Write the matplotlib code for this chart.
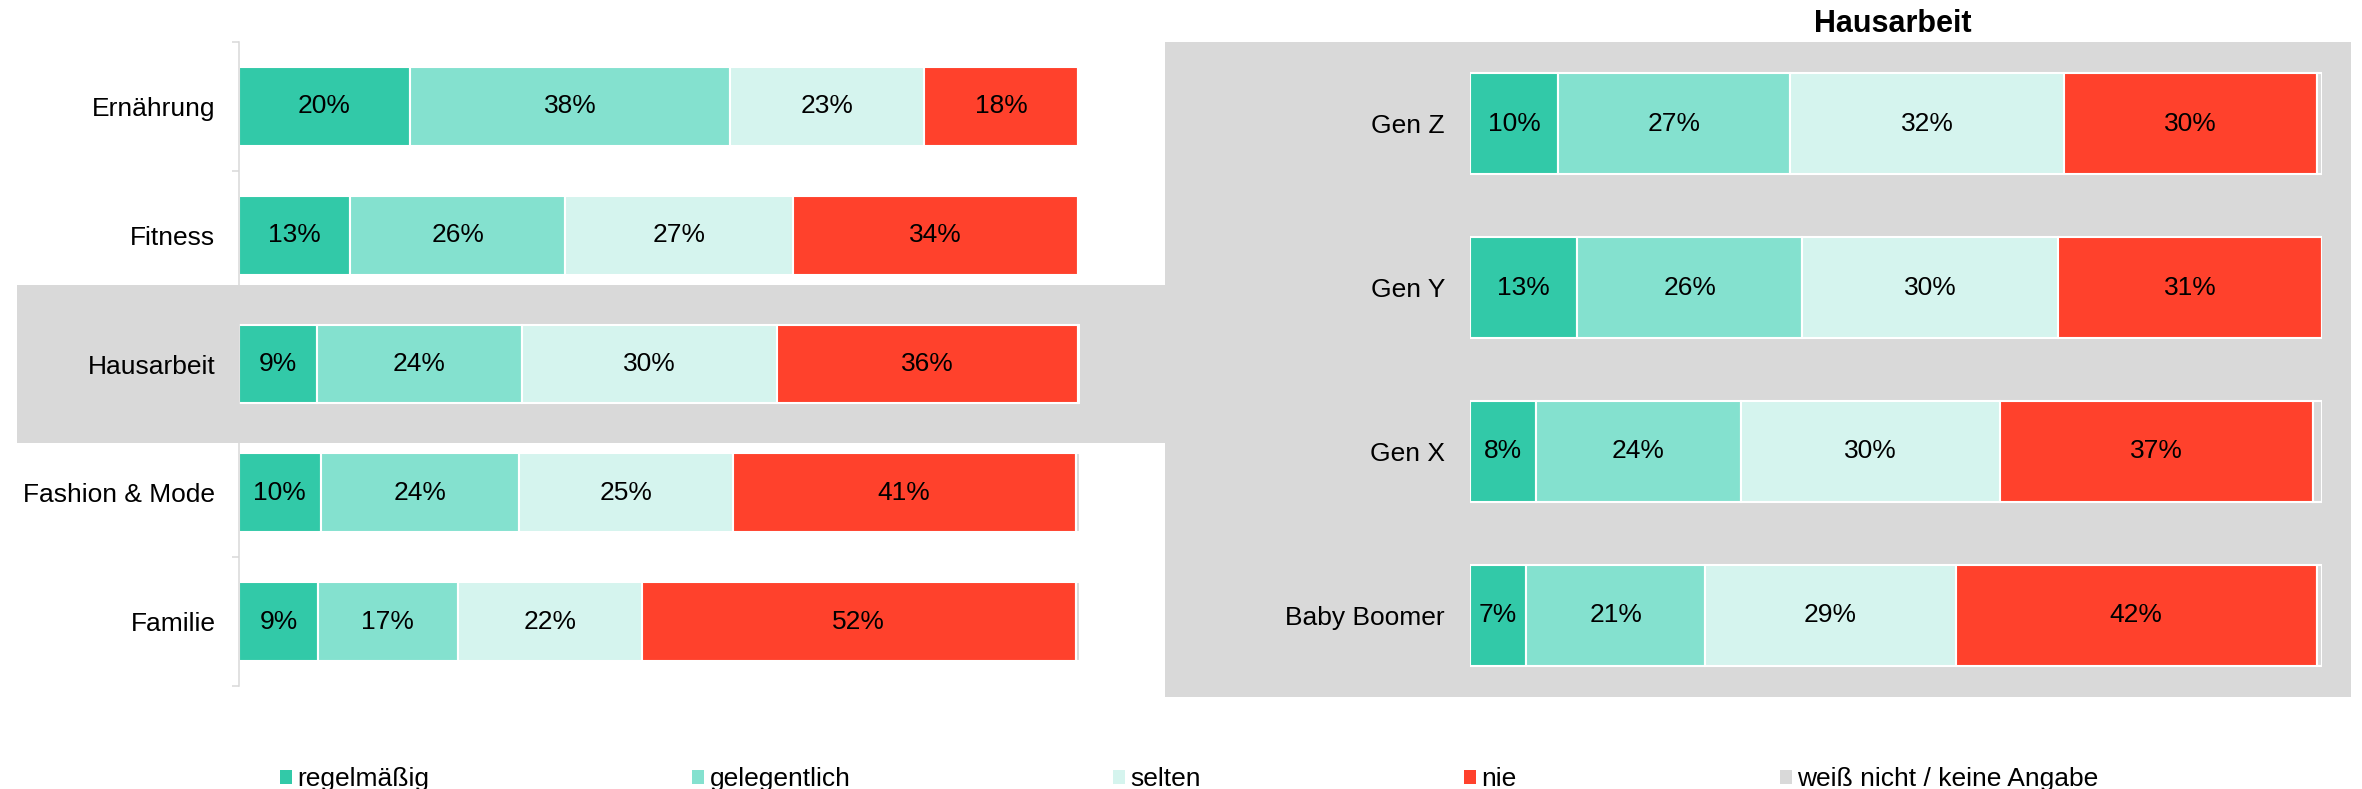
import matplotlib.pyplot as plt
from matplotlib.patches import Rectangle, Patch
import numpy as np

plt.rcParams['font.family'] = ['Liberation Sans', 'DejaVu Sans']

# ===== データ =====
series_names = ['regelmäßig', 'gelegentlich', 'selten', 'nie', 'weiß nicht / keine Angabe']

# 左: テーマ別
left_categories = ['Ernährung', 'Fitness', 'Hausarbeit', 'Fashion & Mode', 'Familie']
left_regelmaessig = [20.3, 13.2, 9.3, 9.7, 9.4]
left_gelegentlich = [38.1, 25.6, 24.3, 23.6, 16.6]
left_selten = [23.0, 27.1, 30.4, 25.4, 21.9]
left_nie = [18.4, 33.9, 35.8, 40.8, 51.6]

# 右: Hausarbeit nach Generation
right_title = 'Hausarbeit'
right_categories = ['Gen Z', 'Gen Y', 'Gen X', 'Baby Boomer']
right_regelmaessig = [10.3, 12.6, 7.7, 6.6]
right_gelegentlich = [27.3, 26.4, 24.1, 21.0]
right_selten = [32.1, 30.0, 30.4, 29.4]
right_nie = [29.7, 31.0, 36.8, 42.4]

# ===== スタイル =====
COLORS = ['#32c9a8', '#84e1cf', '#d5f4ee', '#ff412c', '#d9d9d9']
BG_GRAY = '#d9d9d9'
FONT_SIZE = 19
TITLE_SIZE = 22
W, H = 2362, 789


def px_box(x0, y0, x1, y1):
    """ピクセル座標(上原点)を figure 座標に変換"""
    return [x0 / W, (H - y1) / H, (x1 - x0) / W, (y1 - y0) / H]


def gray_rect(x0, y0, x1, y1):
    b = px_box(x0, y0, x1, y1)
    return Rectangle((b[0], b[1]), b[2], b[3], transform=fig.transFigure,
                     facecolor=BG_GRAY, edgecolor='none', zorder=0)


def draw_stacked(ax, categories, parts, bar_height, label_pad):
    parts = [np.array(p, dtype=float) for p in parts]
    rest = 100 - sum(parts)
    parts.append(np.clip(rest, 0, None))
    y = np.arange(len(categories))
    left = np.zeros(len(categories))
    for i, vals in enumerate(parts):
        ax.barh(y, vals, left=left, height=bar_height, color=COLORS[i],
                edgecolor='white', linewidth=1.5, zorder=2)
        if i < 4:
            for yi, (l, v) in enumerate(zip(left, vals)):
                ax.text(l + v / 2, yi, f'{v:.0f}%', ha='center', va='center',
                        fontsize=FONT_SIZE, color='black', zorder=3)
        left = left + vals
    ax.set_xlim(0, 100)
    ax.set_ylim(len(categories) - 0.5, -0.5)
    ax.set_yticks(y)
    ax.set_yticklabels(categories, fontsize=FONT_SIZE)
    ax.tick_params(axis='y', which='major', length=0, pad=label_pad)
    ax.set_xticks([])
    ax.set_facecolor('none')
    ax.set_zorder(2)
    for s in ['top', 'right', 'bottom']:
        ax.spines[s].set_visible(False)


fig = plt.figure(figsize=(W / 100, H / 100), dpi=100)

# 背景の灰色ハイライト
fig.patches.append(gray_rect(1165, 42, 2351, 697))
fig.patches.append(gray_rect(17, 285, 1166, 443))

# 左グラフ
ax1 = fig.add_axes(px_box(239, 42, 1080, 686))
draw_stacked(ax1, left_categories,
             [left_regelmaessig, left_gelegentlich, left_selten, left_nie],
             bar_height=0.613, label_pad=17)
ax1.spines['left'].set_color(BG_GRAY)
ax1.spines['left'].set_linewidth(1.1)
ax1.set_yticks(np.arange(len(left_categories) + 1) - 0.5, minor=True)
ax1.tick_params(axis='y', which='minor', length=5, color=BG_GRAY, width=1.1)

# 右グラフ
ax2 = fig.add_axes(px_box(1470, 42, 2322, 697))
draw_stacked(ax2, right_categories,
             [right_regelmaessig, right_gelegentlich, right_selten, right_nie],
             bar_height=0.617, label_pad=18)
ax2.spines['left'].set_visible(False)

fig.text(1893 / W, 1 - 24 / H, right_title, ha='center', va='center',
         fontsize=TITLE_SIZE, fontweight='bold')

# 凡例
handles = [Patch(facecolor=c, edgecolor='none') for c in COLORS]
fig.legend(handles, series_names, loc='center left', bbox_to_anchor=(280 / W, 10 / H),
           ncol=5, frameon=False, fontsize=FONT_SIZE, handlelength=0.45, handleheight=0.45,
           handletextpad=0.2, columnspacing=9.97, borderpad=0, borderaxespad=0)

plt.savefig('out.png', dpi=100)
